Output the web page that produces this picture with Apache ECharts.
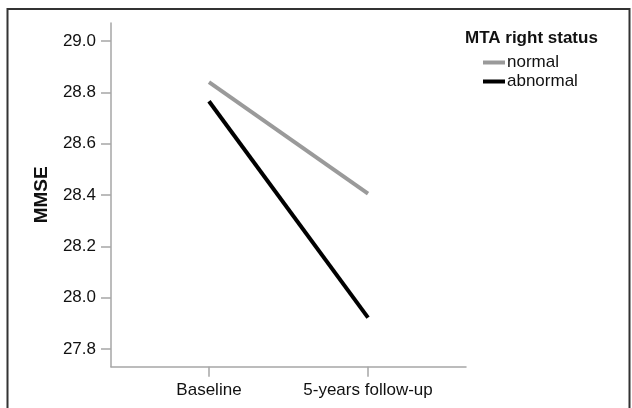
<!DOCTYPE html>
<html><head><meta charset="utf-8">
<script src="https://cdn.jsdelivr.net/npm/echarts@6/dist/echarts.min.js"></script>
<style>html,body{margin:0;padding:0;background:#fff}#c{width:632px;height:408px}</style>
</head><body><div id="c"></div>
<script>
const categories = ['Baseline', '5-years follow-up'];
const normalValues = [28.84, 28.405];
const abnormalValues = [28.765, 27.922];
const yTicks = [27.8, 28.0, 28.2, 28.4, 28.6, 28.8, 29.0];
const seriesNames = ['normal', 'abnormal'];
const legendTitle = 'MTA right status';
const yName = 'MMSE';

const chart = echarts.init(document.getElementById('c'), null, {renderer: 'canvas'});
const font = 'Liberation Sans, Arial, sans-serif';
const axisColor = '#a6a6a6';
const xIdx = categories.map((c, i) => i);
chart.setOption({
  animation: false,
  backgroundColor: '#fff',
  grid: {left: 111, top: 23, right: 166, bottom: 41.3, containLabel: false},
  title: {text: legendTitle, left: 465, top: 30, padding: 0, textStyle: {fontFamily: font, fontSize: 17, fontWeight: 'bold', color: '#111'}},
  legend: {
    orient: 'vertical', left: 478, top: 49, itemWidth: 22, itemHeight: 4, itemGap: 2,
    icon: 'rect',
    textStyle: {fontFamily: font, fontSize: 17, color: '#111', padding: [0, 0, 0, -3]},
    data: seriesNames
  },
  xAxis: {
    type: 'value', min: -0.616, max: 1.616,
    axisLine: {show: true, onZero: false, lineStyle: {color: axisColor, width: 1.5}},
    axisTick: {show: true, length: 10, inside: false, customValues: xIdx, lineStyle: {color: axisColor, width: 1.5}},
    axisLabel: {customValues: xIdx, formatter: v => categories[Math.round(v)] || '', fontFamily: font, fontSize: 17, color: '#111', margin: 15},
    splitLine: {show: false}
  },
  yAxis: {
    type: 'value', min: 27.731, max: 29.070,
    name: yName, nameLocation: 'middle', nameGap: 60, nameRotate: 90,
    nameTextStyle: {fontFamily: font, fontSize: 19, fontWeight: 'bold', color: '#111'},
    axisLine: {show: true, onZero: false, lineStyle: {color: axisColor, width: 1.5}},
    axisTick: {show: true, length: 10, customValues: yTicks, lineStyle: {color: axisColor, width: 1.5}},
    axisLabel: {customValues: yTicks, formatter: v => v.toFixed(1), fontFamily: font, fontSize: 17, color: '#111', margin: 15},
    splitLine: {show: false}
  },
  graphic: [{
    type: 'rect', silent: true, z: 100,
    shape: {x: 7.5, y: 9, width: 622, height: 410},
    style: {fill: 'none', stroke: '#333', lineWidth: 2}
  }],
  series: [
    {name: seriesNames[0], type: 'line', data: normalValues.map((v, i) => [xIdx[i], v]), showSymbol: false, symbol: 'none', lineStyle: {color: '#9a9a9a', width: 4}, itemStyle: {color: '#9a9a9a'}},
    {name: seriesNames[1], type: 'line', data: abnormalValues.map((v, i) => [xIdx[i], v]), showSymbol: false, symbol: 'none', lineStyle: {color: '#000', width: 4}, itemStyle: {color: '#000'}}
  ]
});
</script></body></html>
